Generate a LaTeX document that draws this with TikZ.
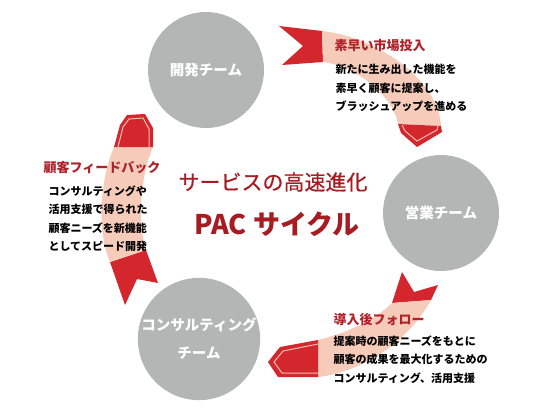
\documentclass[tikz,border=0pt]{standalone}
\usepackage{fontspec}
\newfontfamily\jp{Noto Sans CJK JP}
\newfontfamily\jpmid[FakeBold=0.6]{Noto Sans CJK JP}
\definecolor{teamgray}{HTML}{B4B5B5}
\definecolor{ribred}{HTML}{D3272D}
\definecolor{ribpink}{HTML}{F7CBBA}
\definecolor{ribline}{HTML}{F6BDB0}
\definecolor{textred}{HTML}{B0212A}
\definecolor{titlered}{HTML}{A61C22}

\begin{document}
\begin{tikzpicture}[x=1pt,y=-1pt]

\tikzset{team/.style = {shape=circle,fill=teamgray,minimum size=116pt,inner sep=0pt,text=white,align=center,font=\jp\bfseries\fontsize{14.5}{28}\selectfont}}
\tikzset{redpart/.style = {fill=ribred}}
\tikzset{pinkpart/.style = {fill=ribpink}}
\tikzset{inline/.style = {draw=ribline,line width=1pt}}
\tikzset{heading/.style = {anchor=west,text=textred,font=\jp\bfseries\fontsize{13}{15}\selectfont}}
\tikzset{note/.style = {anchor=west,align=left,font=\jp\bfseries\fontsize{11}{18.5}\selectfont}}
\useasboundingbox (0,0) rectangle (537,408);

%ribbon top right
\fill[redpart] (279,26) -- (303,46) -- (282,65) -- (323,62) -- (322,31) -- cycle;
\fill[pinkpart] (322,31) .. controls (377,37) and (439,80) .. (441,126) -- (398,124) .. controls (393,95) and (355,66) .. (323,62) -- cycle;
\fill[redpart] (398,124) -- (441,126) -- (442,132) -- (417,147) -- (401,133) -- cycle;
\draw[inline] (402,125) -- (405,131) -- (417,141) -- (437,130) -- (438,126);
%ribbon bottom right
\fill[redpart] (402,272) -- (414,292) -- (438,285) -- (431,300) -- (392,303) -- cycle;
\fill[pinkpart] (431,300) .. controls (408,342) and (362,372) .. (318,377) -- (318,340) .. controls (345,333) and (373,322) .. (392,303) -- cycle;
\fill[redpart] (318,340) -- (280,347) -- (268,362) -- (278,377) -- (318,377) -- cycle;
\draw[inline] (318,344) -- (283,351) -- (274,362) -- (282,373) -- (318,373);
%ribbon left
\fill[redpart] (110,262) -- (125,305) -- (137,279) -- (158,283) -- (146,250) -- cycle;
\fill[pinkpart] (110,262) .. controls (98,235) and (98,185) .. (114,147) -- (153,147) .. controls (139,180) and (138,225) .. (146,250) -- cycle;
\fill[redpart] (114,147) -- (120,125) -- (127,115) -- (145,114) -- (153,128) -- (153,147) -- cycle;
\draw[inline] (118,147) -- (123,127) -- (129,119) -- (143,118) -- (149,129) -- (149,147);

%teams
\node[team] (dev) at (206,70) {開発チーム};
\node[team] (sales) at (441,213) {営業チーム};
\node[team] (consult) at (199,339) {コンサルティング\\チーム};

%center
\node[text=titlered,font=\jpmid\fontsize{21}{24}\selectfont] (title) at (273,182) {サービスの高速進化};
\node[text=titlered,font=\jp\bfseries\fontsize{27}{30}\selectfont] (pac) at (277,224) {PAC サイクル};

%texts
\node[heading] (h1) at (331,46) {素早い市場投入};
\node[note] (n1) at (332,88) {新たに生み出した機能を\\素早く顧客に提案し、\\ブラッシュアップを進める};
\node[heading] (h2) at (40,168) {顧客フィードバック};
\node[note] (n2) at (45,218.5) {コンサルティングや\\活用支援で得られた\\顧客ニーズを新機能\\としてスピード開発};
\node[heading] (h3) at (330,320) {導入後フォロー};
\node[note] (n3) at (330,359.5) {提案時の顧客ニーズをもとに\\顧客の成果を最大化するための\\コンサルティング、活用支援};

\end{tikzpicture}
\end{document}
